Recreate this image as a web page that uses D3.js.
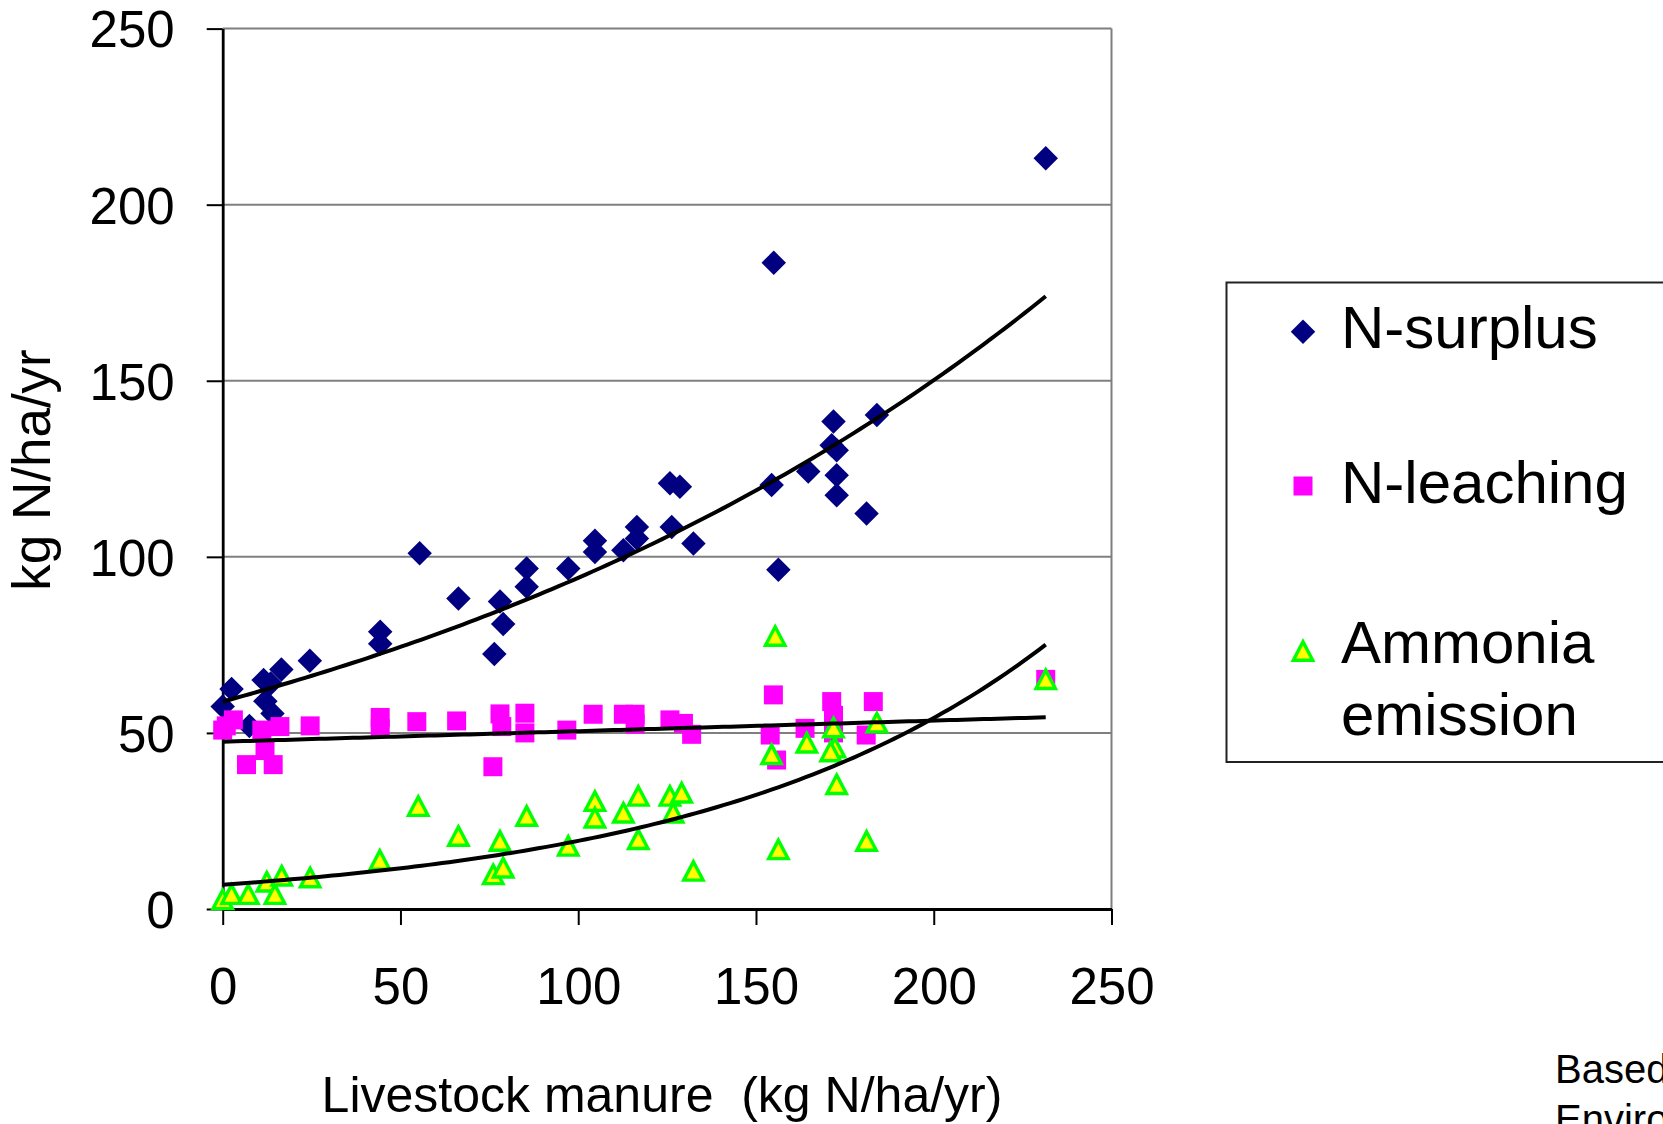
<!DOCTYPE html>
<html>
<head>
<meta charset="utf-8">
<script src="https://cdn.jsdelivr.net/npm/d3@7/dist/d3.min.js"></script>
<style>
  html, body { margin: 0; padding: 0; background: #fff; }
  svg { display: block; }
  text { font-family: "Liberation Sans", Arial, sans-serif; fill: #000; white-space: pre; }
</style>
</head>
<body>
<svg id="chart" width="1663" height="1124"></svg>
<script>
// Tick values for both axes
const xTicks = [0, 50, 100, 150, 200, 250];
const yTicks = [0, 50, 100, 150, 200, 250];

// Series: [livestock manure, kg N/ha/yr]
const surplus = [
  [0, 57.5], [2.5, 62.5], [7.5, 52], [11.5, 65], [12, 59], [14, 55.5], [13.5, 64],
  [16.5, 68], [24.5, 70.5], [44.3, 78.7], [44.3, 75.3], [55.4, 101], [66.3, 88.2],
  [76.4, 72.4], [78, 87.3], [78.9, 80.9], [85.5, 96.7], [85.5, 91.5], [97.2, 96.7],
  [104.7, 104.6], [104.7, 101.4], [112.7, 101.9], [116.5, 108.5], [116.5, 105.2],
  [125.8, 120.9], [128.6, 119.9], [126.3, 108.5], [132.4, 103.8], [154.4, 120.4],
  [155, 183.5], [156.3, 96.3], [164.7, 124.2], [171.3, 131.7], [171.8, 138.4],
  [172.7, 130.3], [172.7, 123.2], [172.7, 117.5], [181.1, 112.3], [184, 140.3],
  [231.5, 213.2]
];

const leaching = [
  [0, 50.8], [1, 52], [3, 53.7], [6.7, 41], [11, 50.8], [11.9, 45], [14.2, 41],
  [16.1, 51.8], [24.6, 52], [44.3, 54.4], [44.3, 51.2], [54.6, 53.2], [65.8, 53.4],
  [76, 40.4], [78, 55.4], [78.5, 51.8], [85, 55.6], [85, 50], [96.8, 50.8],
  [104.2, 55.3], [112.7, 55.3], [116, 55.3], [116, 52.5], [125.8, 53.7], [129.6, 52.7],
  [131.9, 49.6], [154.9, 60.8], [154, 49.4], [155.8, 42.3], [163.8, 51.3],
  [171.3, 58.9], [171.8, 55], [171.8, 50], [181, 49.4], [183, 58.9], [231.5, 65.2]
];

const ammonia = [
  [0, 3], [2.5, 4.5], [7.2, 4.5], [12.4, 8], [14.7, 4.5], [16.6, 9.7], [24.6, 9.2],
  [44.2, 14.2], [55, 29.5], [66.3, 21], [76.1, 10.1], [78.9, 12], [78, 19.6],
  [85.5, 26.7], [97.2, 18.2], [104.7, 30.9], [104.7, 26.2], [112.7, 27.6],
  [116.9, 32.4], [116.9, 20.1], [125.8, 32.4], [129.1, 33.3], [126.7, 27.6],
  [132.4, 11.1], [155.4, 77.8], [154.4, 44.2], [156.3, 17.2], [164.3, 47.5],
  [171.8, 51.8], [172.2, 46.1], [171, 45], [172.7, 35.7], [181.1, 19.6],
  [184, 53.2], [231.5, 65.5]
];

// Trendline coefficients: exponential y = a·e^(b·x), linear y = a + b·x
const surplusTrend = { kind: "exp", a: 58.9, b: 0.004679 };
const leachingTrend = { kind: "lin", a: 47.5, b: 0.030 };
const ammoniaTrend = { kind: "exp", a: 6.9, b: 0.01031 };

const legendLabels = [["N-surplus"], ["N-leaching"], ["Ammonia", "emission"]];
const xTitle = "Livestock manure  (kg N/ha/yr)";
const yTitle = "kg N/ha/yr";
const sourceNote = ["Based on", "Environment"];

const svg = d3.select("#chart");

const x = d3.scaleLinear().domain([0, 250]).range([222.7, 1111.5]);
const y = d3.scaleLinear().domain([0, 250]).range([909, 28.6]);

// Horizontal gridlines and the grey frame (top/right)
const grid = svg.append("g");
grid.selectAll("line.h").data(yTicks.filter(d => d > 0)).join("line")
  .attr("x1", x(0)).attr("x2", x(250))
  .attr("y1", d => y(d)).attr("y2", d => y(d))
  .attr("stroke", "#7f7f7f").attr("stroke-width", 2);
grid.append("line")
  .attr("x1", x(250)).attr("x2", x(250)).attr("y1", y(250)).attr("y2", y(0))
  .attr("stroke", "#7f7f7f").attr("stroke-width", 2);

// Axes
const yAxis = svg.append("g").attr("transform", `translate(${x(0)},0)`)
  .call(d3.axisLeft(y).tickValues(yTicks).tickSize(16).tickSizeOuter(0).tickPadding(32));
const xAxis = svg.append("g").attr("transform", `translate(0,${y(0)})`)
  .call(d3.axisBottom(x).tickValues(xTicks).tickSize(16).tickSizeOuter(0).tickPadding(43));

[yAxis, xAxis].forEach(g => {
  g.select(".domain").attr("stroke", "#000").attr("stroke-width", 2.8);
  g.selectAll(".tick line").attr("stroke", "#000").attr("stroke-width", 2);
  g.selectAll(".tick text")
    .attr("font-family", "Liberation Sans, Arial, sans-serif")
    .attr("font-size", 51).attr("fill", "#000");
});
yAxis.selectAll(".tick text").attr("dy", "0.36em");

// Marker shapes
const diamond = d3.symbol().type(d3.symbolSquare).size(300);
const square = d3.symbol().type(d3.symbolSquare).size(361);
const triShape = {
  draw(ctx, size) {
    const w = Math.sqrt(size) * 1.05, h = Math.sqrt(size);
    ctx.moveTo(0, -h / 2);
    ctx.lineTo(w / 2, h / 2);
    ctx.lineTo(-w / 2, h / 2);
    ctx.closePath();
  }
};
const triangle = d3.symbol().type(triShape).size(340);

const marks = svg.append("g");
marks.selectAll("path.surplus").data(surplus).join("path")
  .attr("class", "surplus")
  .attr("d", diamond)
  .attr("transform", d => `translate(${x(d[0])},${y(d[1])}) rotate(45)`)
  .attr("fill", "#000080");
marks.selectAll("path.leach").data(leaching).join("path")
  .attr("class", "leach")
  .attr("d", square)
  .attr("transform", d => `translate(${x(d[0])},${y(d[1])})`)
  .attr("fill", "#FF00FF");
marks.selectAll("path.nh3").data(ammonia).join("path")
  .attr("class", "nh3")
  .attr("d", triangle)
  .attr("transform", d => `translate(${x(d[0])},${y(d[1]) + 1})`)
  .attr("fill", "#FFFF00").attr("stroke", "#00FF00").attr("stroke-width", 3.4)
  .attr("stroke-linejoin", "miter");

// Trend lines over each series' x-range
function trendPoints(pts, t) {
  const [x0, x1] = d3.extent(pts, p => p[0]);
  const f = t.kind === "exp" ? v => t.a * Math.exp(t.b * v) : v => t.a + t.b * v;
  return d3.range(0, 121).map(i => {
    const v = x0 + (x1 - x0) * i / 120;
    return [v, f(v)];
  });
}
const trends = [
  trendPoints(surplus, surplusTrend),
  trendPoints(leaching, leachingTrend),
  trendPoints(ammonia, ammoniaTrend)
];
const line = d3.line().x(d => x(d[0])).y(d => y(d[1]));
svg.append("g").selectAll("path").data(trends).join("path")
  .attr("d", line).attr("fill", "none").attr("stroke", "#000").attr("stroke-width", 4);

// Axis titles
svg.append("text")
  .attr("x", 662).attr("y", 1112).attr("text-anchor", "middle")
  .attr("font-size", 50).text(xTitle);
svg.append("text")
  .attr("transform", "translate(50,470) rotate(-90)")
  .attr("text-anchor", "middle").attr("font-size", 53).text(yTitle);

// Legend
const lg = svg.append("g");
lg.append("rect").attr("x", 1226.5).attr("y", 282.5).attr("width", 600).attr("height", 479.5)
  .attr("fill", "#fff").attr("stroke", "#222").attr("stroke-width", 2);
const legendMarks = [
  { sym: diamond, fill: "#000080", stroke: "none", rot: 45, cy: 331.7 },
  { sym: square, fill: "#FF00FF", stroke: "none", rot: 0, cy: 486 },
  { sym: triangle, fill: "#FFFF00", stroke: "#00FF00", rot: 0, cy: 651 }
];
const baselines = [[348.3], [503.3], [663.3, 735]];
legendMarks.forEach((m, i) => {
  lg.append("path").attr("d", m.sym)
    .attr("transform", `translate(1303,${m.cy}) rotate(${m.rot})`)
    .attr("fill", m.fill).attr("stroke", m.stroke).attr("stroke-width", 3.4);
  legendLabels[i].forEach((t, j) => {
    lg.append("text").attr("x", 1341).attr("y", baselines[i][j])
      .attr("font-size", 60).text(t);
  });
});

// Source note
sourceNote.forEach((t, i) => {
  svg.append("text").attr("x", 1555).attr("y", 1083 + i * 50)
    .attr("font-size", 40).text(t);
});
</script>
</body>
</html>
